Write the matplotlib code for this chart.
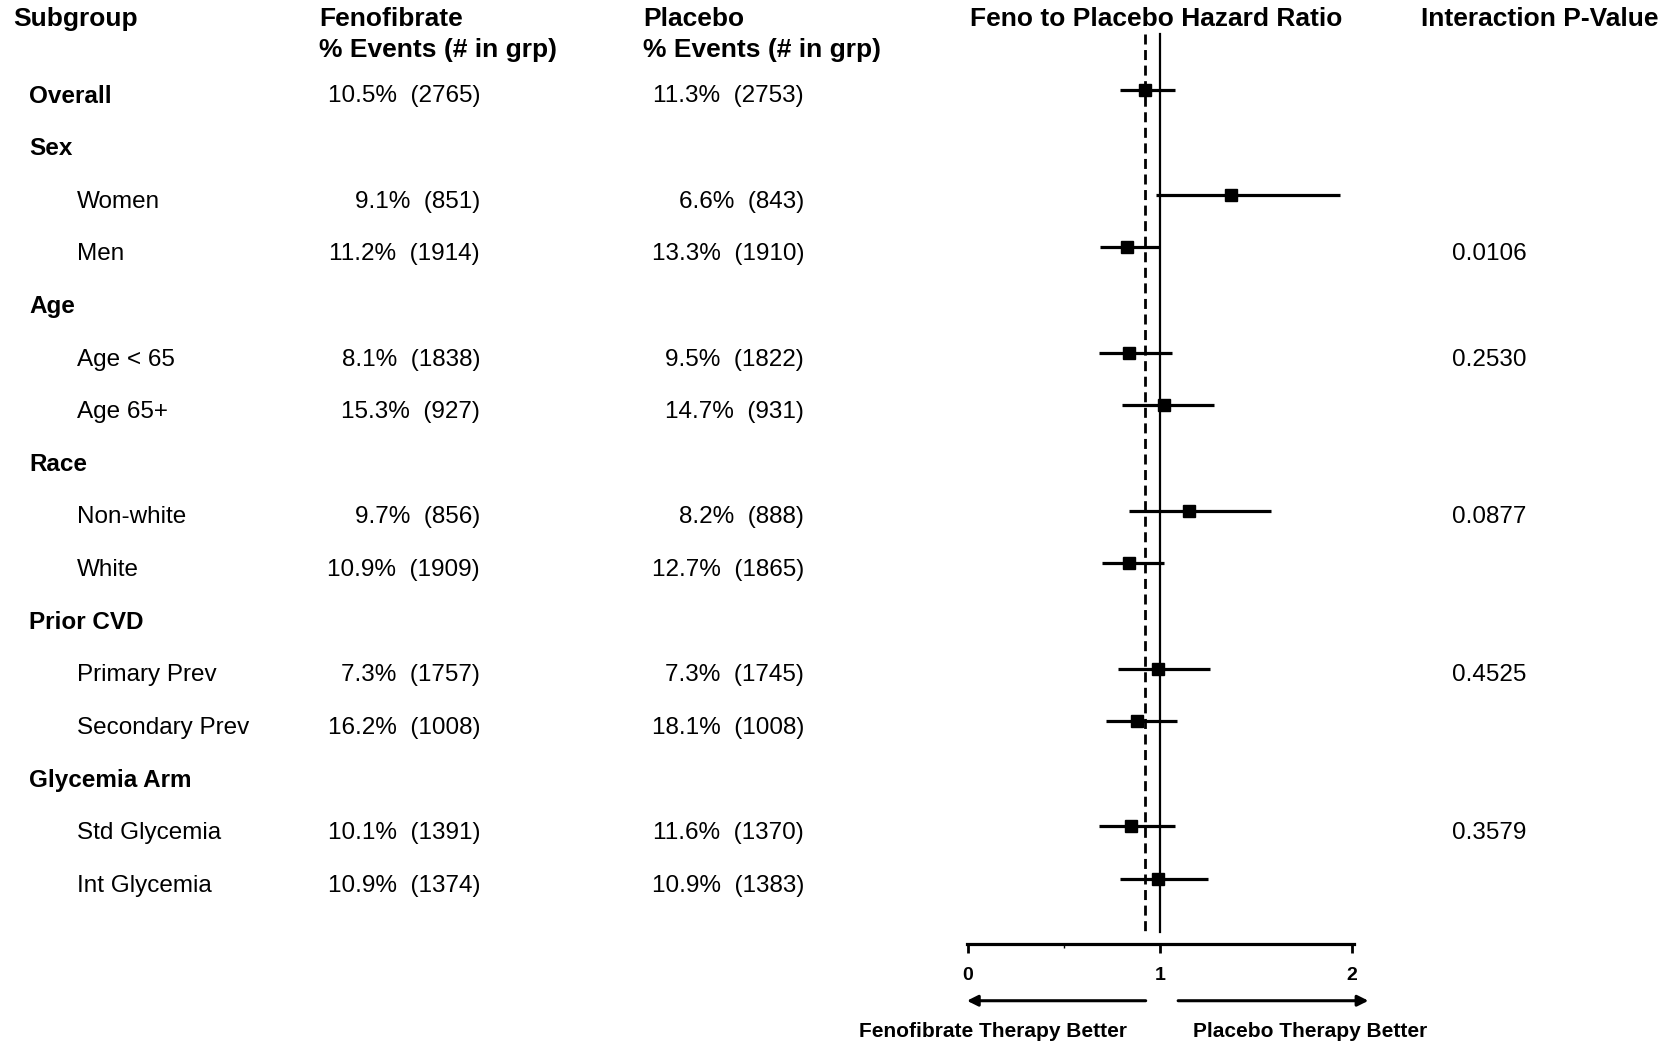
import matplotlib
matplotlib.use("Agg")
import matplotlib.pyplot as plt
from matplotlib.transforms import blended_transform_factory

plt.rcParams["font.family"] = ["Liberation Sans", "DejaVu Sans"]

# ---- data ----
rows = ["Overall", "Sex", "Women", "Men", "Age", "Age < 65", "Age 65+", "Race",
        "Non-white", "White", "Prior CVD", "Primary Prev", "Secondary Prev",
        "Glycemia Arm", "Std Glycemia", "Int Glycemia"]
is_sub = [False, False, True, True, False, True, True, False,
          True, True, False, True, True, False, True, True]

feno_pct = [10.5, None, 9.1, 11.2, None, 8.1, 15.3, None, 9.7, 10.9, None, 7.3, 16.2, None, 10.1, 10.9]
feno_n = [2765, None, 851, 1914, None, 1838, 927, None, 856, 1909, None, 1757, 1008, None, 1391, 1374]
plac_pct = [11.3, None, 6.6, 13.3, None, 9.5, 14.7, None, 8.2, 12.7, None, 7.3, 18.1, None, 11.6, 10.9]
plac_n = [2753, None, 843, 1910, None, 1822, 931, None, 888, 1865, None, 1745, 1008, None, 1370, 1383]

hr = [0.92, None, 1.37, 0.83, None, 0.84, 1.02, None, 1.15, 0.84, None, 0.99, 0.88, None, 0.85, 0.99]
hr_lo = [0.79, None, 0.98, 0.69, None, 0.68, 0.80, None, 0.84, 0.70, None, 0.78, 0.72, None, 0.68, 0.79]
hr_hi = [1.08, None, 1.94, 1.00, None, 1.06, 1.28, None, 1.58, 1.02, None, 1.26, 1.09, None, 1.08, 1.25]

pvals = [None, None, None, "0.0106", None, "0.2530", None, None, "0.0877", None,
         None, "0.4525", None, None, "0.3579", None]

overall_hr = 0.92
xticks = [0, 1, 2]

# ---- layout ----
W, H = 1680, 1043
fig = plt.figure(figsize=(W / 100, H / 100), dpi=100)
ax = fig.add_axes([860 / W, 0, 580 / W, 1])
ax.set_xlim(-0.5625, 2.4583)
ax.set_ylim(18.043, -1.7705)
ax.patch.set_visible(False)
for s in ["top", "right", "left"]:
    ax.spines[s].set_visible(False)
ax.spines["bottom"].set_position(("data", 16.16))
ax.spines["bottom"].set_bounds(-0.005, 2.01)
ax.spines["bottom"].set_linewidth(2.3)
ax.set_yticks([])
ax.set_xticks(xticks)
ax.set_xticks([0.5], minor=True)
ax.tick_params(axis="x", which="major", length=6.5, width=2, labelsize=14, pad=10)
ax.tick_params(axis="x", which="minor", length=3, width=1)
for lbl in ax.get_xticklabels():
    lbl.set_fontweight("bold")

trans = blended_transform_factory(fig.transFigure, ax.transData)
TXT_DY = 0.06    # text sits a touch below the row line
MARK_DY = -0.07  # markers sit a touch above it

# headers
hdr = dict(fontsize=19, fontweight="bold", va="center")
fig.text(13 / W, 1 - 19.3 / H, "Subgroup", **hdr)
fig.text(319 / W, 1 - 19.3 / H, "Fenofibrate", **hdr)
fig.text(319 / W, 1 - 50.4 / H, "% Events (# in grp)", **hdr)
fig.text(643 / W, 1 - 19.3 / H, "Placebo", **hdr)
fig.text(643 / W, 1 - 50.4 / H, "% Events (# in grp)", **hdr)
fig.text(1156 / W, 1 - 19.3 / H, "Feno to Placebo Hazard Ratio", ha="center", **hdr)
fig.text(1540 / W, 1 - 19.3 / H, "Interaction P-Value", ha="center", **hdr)

# table columns
for i, name in enumerate(rows):
    y = i + TXT_DY
    fig.text((77 if is_sub[i] else 29) / W, y, name, transform=trans,
             fontsize=17.5, va="center",
             fontweight="normal" if is_sub[i] else "bold")
    if feno_pct[i] is not None:
        fig.text(480 / W, y, f"{feno_pct[i]:.1f}%  ({feno_n[i]})", transform=trans,
                 fontsize=17.5, va="center", ha="right")
        fig.text(804 / W, y, f"{plac_pct[i]:.1f}%  ({plac_n[i]})", transform=trans,
                 fontsize=17.5, va="center", ha="right")
    if pvals[i] is not None:
        fig.text(1489 / W, y, pvals[i], transform=trans,
                 fontsize=17.5, va="center", ha="center")

# reference lines
ax.plot([1, 1], [-1.12, 15.93], color="black", lw=1.6)
ax.plot([overall_hr, overall_hr], [-1.12, 15.93], color="black", lw=2,
        ls=(0, (3.6, 2)))

# estimates with CIs
ys = [i for i in range(len(rows)) if hr[i] is not None]
est = [hr[i] for i in ys]
err_lo = [hr[i] - hr_lo[i] for i in ys]
err_hi = [hr_hi[i] - hr[i] for i in ys]
ax.errorbar(est, [y + MARK_DY for y in ys], xerr=[err_lo, err_hi], fmt="s",
            color="black", ms=9, elinewidth=2.3, capsize=0, zorder=5)

# direction arrows
ax.annotate("", xy=(-0.02, 17.24), xytext=(0.94, 17.24),
            arrowprops=dict(arrowstyle="-|>", lw=2.2, color="black", mutation_scale=16))
ax.annotate("", xy=(2.10, 17.24), xytext=(1.08, 17.24),
            arrowprops=dict(arrowstyle="-|>", lw=2.2, color="black", mutation_scale=16))
ax.text(0.13, 17.83, "Fenofibrate Therapy Better", ha="center", va="center",
        fontsize=15, fontweight="bold")
ax.text(1.78, 17.83, "Placebo Therapy Better", ha="center", va="center",
        fontsize=15, fontweight="bold")

fig.savefig("out.png", dpi=100)
